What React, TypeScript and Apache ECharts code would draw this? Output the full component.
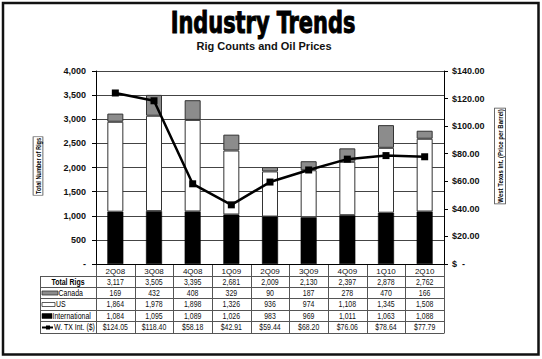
import React, { useEffect, useRef } from 'react';
import * as echarts from 'echarts';

const categories = ['2Q08', '3Q08', '4Q08', '1Q09', '2Q09', '3Q09', '4Q09', '1Q10', '2Q10'];
const totalRigs = [3117, 3505, 3395, 2681, 2009, 2130, 2397, 2878, 2762];
const canada = [169, 432, 408, 329, 90, 187, 278, 470, 166];
const us = [1864, 1978, 1898, 1326, 936, 974, 1108, 1345, 1508];
const international = [1084, 1095, 1089, 1026, 983, 969, 1011, 1063, 1088];
const wti = [124.05, 118.4, 58.18, 42.91, 59.44, 68.2, 76.06, 78.64, 77.79];
const rowLabels = ['Total Rigs', 'Canada', 'US', 'International', 'W. TX Int. ($)'];
const leftTicks = { min: 0, max: 4000, interval: 500 };
const rightTicks = { min: 0, max: 140, interval: 20 };

const COND = '"DejaVu Sans Condensed", "DejaVu Sans", sans-serif';
const SANS = '"Liberation Sans", Arial, sans-serif';
const NS = 0.82; // narrow scale

const fmtInt = (v: number) => v.toLocaleString('en-US');
const fmtMoney = (v: number) => '$' + v.toFixed(2);

export default function App() {
  const ref = useRef<HTMLDivElement>(null);
  useEffect(() => {
    if (!ref.current) return;
    const chart = echarts.init(ref.current, undefined, { renderer: 'svg' });
    const L = 96, R = 444, T = 71, B = 264;
    const cw = (R - L) / categories.length;
    const tableLeft = 40;
    const headerBottom = 275.5;
    const rowH = 11.4;
    const rowY = (k: number) => Math.round(headerBottom + k * rowH) + 0.5;
    const lineColor = '#555';
    const g: any[] = [];

    // outer frame
    g.push({ type: 'rect', shape: { x: 3, y: 3, width: 535.5, height: 351.5 }, style: { fill: 'none', stroke: '#111', lineWidth: 2.5 }, silent: true });

    // title
    g.push({
      type: 'text', x: 263, y: 22, scaleX: 0.75,
      style: { text: 'Industry Trends', font: `bold 31px ${COND}`, fill: '#000', stroke: '#000', lineWidth: 1, align: 'center', verticalAlign: 'middle' },
    });
    g.push({
      type: 'text', x: 264, y: 46,
      style: { text: 'Rig Counts and Oil Prices', font: `bold 11px ${SANS}`, fill: '#111', align: 'center', verticalAlign: 'middle' },
    });

    // axis titles
    g.push({
      type: 'text', x: 38, y: 166, rotation: Math.PI / 2, scaleX: 0.8,
      style: { text: 'Total Number of Rigs', font: `bold 7px ${SANS}`, fill: '#000', align: 'center', verticalAlign: 'middle', borderColor: '#444', borderWidth: 0.8, padding: [1, 1, 1, 1], backgroundColor: '#fff' },
    });
    g.push({
      type: 'text', x: 500, y: 156, rotation: Math.PI / 2, scaleX: 0.8,
      style: { text: 'West Texas Int. (Price per Barrel)', font: `bold 7.5px ${SANS}`, fill: '#000', align: 'center', verticalAlign: 'middle', borderColor: '#444', borderWidth: 0.8, padding: [1, 1, 1, 1], backgroundColor: '#fff' },
    });

    // table grid
    const top = rowY(0), bottom = rowY(rowLabels.length);
    for (let k = 0; k <= rowLabels.length; k++) {
      g.push({ type: 'line', shape: { x1: tableLeft, y1: rowY(k), x2: R, y2: rowY(k) }, style: { stroke: lineColor, lineWidth: 1 }, silent: true });
    }
    g.push({ type: 'line', shape: { x1: tableLeft + 0.5, y1: top, x2: tableLeft + 0.5, y2: bottom }, style: { stroke: lineColor, lineWidth: 1 }, silent: true });
    for (let i = 0; i <= categories.length; i++) {
      const x = Math.round(L + i * cw) + 0.5;
      g.push({ type: 'line', shape: { x1: x, y1: B, x2: x, y2: bottom }, style: { stroke: lineColor, lineWidth: 1 }, silent: true });
    }
    // row values
    const rows = [totalRigs.map(fmtInt), canada.map(fmtInt), us.map(fmtInt), international.map(fmtInt), wti.map(fmtMoney)];
    const cyk = (k: number) => (rowY(k) + rowY(k + 1)) / 2;
    rows.forEach((vals, k) => {
      vals.forEach((v, i) => {
        g.push({ type: 'text', x: L + (i + 0.5) * cw, y: cyk(k), scaleX: NS, style: { text: v, font: `8.5px ${SANS}`, fill: '#111', align: 'center', verticalAlign: 'middle' } });
      });
    });
    // row labels + legend keys
    g.push({ type: 'text', x: 68, y: cyk(0), scaleX: NS, style: { text: rowLabels[0], font: `bold 8.5px ${SANS}`, fill: '#000', align: 'center', verticalAlign: 'middle' } });
    g.push({ type: 'rect', shape: { x: 42, y: cyk(1) - 2, width: 16, height: 4 }, style: { fill: '#8c8c8c', stroke: '#333', lineWidth: 0.8 } });
    g.push({ type: 'text', x: 58.5, y: cyk(1), scaleX: NS, style: { text: rowLabels[1], font: `8.5px ${SANS}`, fill: '#000', align: 'left', verticalAlign: 'middle' } });
    g.push({ type: 'rect', shape: { x: 42, y: cyk(2) - 2, width: 13, height: 4 }, style: { fill: '#fff', stroke: '#333', lineWidth: 0.8 } });
    g.push({ type: 'text', x: 56, y: cyk(2), scaleX: NS, style: { text: rowLabels[2], font: `8.5px ${SANS}`, fill: '#000', align: 'left', verticalAlign: 'middle' } });
    g.push({ type: 'rect', shape: { x: 42, y: cyk(3) - 2.5, width: 10, height: 5 }, style: { fill: '#000', stroke: '#000', lineWidth: 0.5 } });
    g.push({ type: 'text', x: 52.5, y: cyk(3), scaleX: NS, style: { text: rowLabels[3], font: `8.5px ${SANS}`, fill: '#000', align: 'left', verticalAlign: 'middle' } });
    g.push({ type: 'line', shape: { x1: 42, y1: cyk(4), x2: 53, y2: cyk(4) }, style: { stroke: '#000', lineWidth: 2 } });
    g.push({ type: 'rect', shape: { x: 46, y: cyk(4) - 2, width: 4, height: 4 }, style: { fill: '#000' } });
    g.push({ type: 'text', x: 54, y: cyk(4), scaleX: NS, style: { text: rowLabels[4], font: `8.5px ${SANS}`, fill: '#000', align: 'left', verticalAlign: 'middle' } });

    const barBase = { type: 'bar', stack: 'rigs', barWidth: 16, xAxisIndex: 0, yAxisIndex: 0 };
    chart.setOption({
      animation: false,
      backgroundColor: '#fff',
      grid: { left: L, right: 542 - R, top: T, bottom: 359 - B, containLabel: false },
      xAxis: {
        type: 'category', data: categories,
        axisLine: { show: true, lineStyle: { color: '#000', width: 1 } },
        axisTick: { show: false },
        axisLabel: { fontSize: 8, fontFamily: SANS, color: '#111', margin: 3 },
      },
      yAxis: [
        {
          type: 'value', ...leftTicks, position: 'left',
          axisLine: { show: true, lineStyle: { color: '#000' } },
          axisTick: { show: true, length: 4, lineStyle: { color: '#000' } },
          splitLine: { show: true, lineStyle: { color: '#444', width: 1 } },
          axisLabel: { fontSize: 9, fontWeight: 'bold', fontFamily: SANS, color: '#111', margin: 10, formatter: (v: number) => (v === 0 ? '-' : fmtInt(v)) },
        },
        {
          type: 'value', ...rightTicks, position: 'right',
          axisLine: { show: true, lineStyle: { color: '#000' } },
          axisTick: { show: true, length: 4, lineStyle: { color: '#000' } },
          splitLine: { show: false },
          axisLabel: { fontSize: 9, fontWeight: 'bold', fontFamily: SANS, color: '#111', margin: 8, formatter: (v: number) => (v === 0 ? '$  -' : fmtMoney(v)) },
        },
      ],
      series: [
        { ...barBase, name: 'International', data: international, itemStyle: { color: '#000', borderColor: '#000', borderWidth: 0.5 } },
        { ...barBase, name: 'US', data: us, itemStyle: { color: '#fff', borderColor: '#333', borderWidth: 1 } },
        { ...barBase, name: 'Canada', data: canada, itemStyle: { color: '#8c8c8c', borderColor: '#333', borderWidth: 1 } },
        {
          type: 'line', name: 'W. TX Int. ($)', data: wti, yAxisIndex: 1, z: 5,
          symbol: 'rect', symbolSize: 7, lineStyle: { color: '#000', width: 2.5 }, itemStyle: { color: '#000' },
        },
      ],
      graphic: g,
    });
    return () => chart.dispose();
  }, []);
  return <div ref={ref} style={{ position: 'fixed', left: 0, top: 0, width: 542, height: 359, background: '#fff' }} />;
}
